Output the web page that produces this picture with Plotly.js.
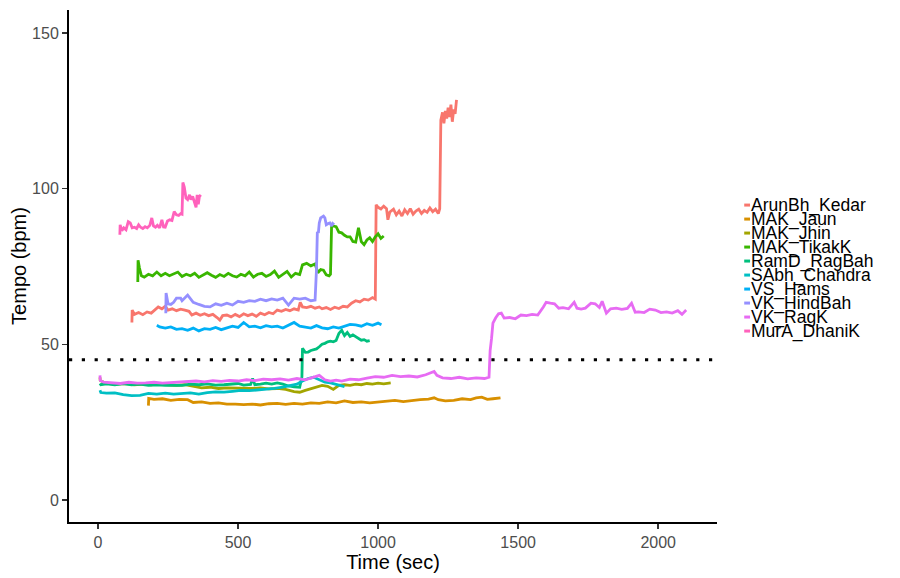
<!DOCTYPE html>
<html><head><meta charset="utf-8">
<script src="https://cdn.plot.ly/plotly-3.0.1.min.js"></script>
<style>html,body{margin:0;padding:0;background:#fff}#chart{width:900px;height:578px}</style>
</head><body><div id="chart"></div>
<script>
// ---- categories & colours ----
const performers = ["ArunBh_Kedar","MAK_Jaun","MAK_Jhin","MAK_TikakK","RamD_RagBah","SAbh_Chandra","VS_Hams","VK_HindBah","VK_RagK","MurA_DhaniK"];
const colors = ["#F8766D","#D89000","#A3A500","#39B600","#00BF7D","#00BFC4","#00B0F6","#9590FF","#E76BF3","#FF62BC"];
const xTicks = [0,500,1000,1500,2000];
const yTicks = [0,50,100,150];
const thresholdTempo = 45;

// ---- series values: [time (sec), tempo (bpm)] ----
const ArunBh_Kedar = [[121,57],[122,61],[130,59.6],[145,60.2],[160,59.5],[175,60.4],[190,60],[205,61.2],[215,62],[228,61.4],[240,62.2],[250,61],[265,61.4],[280,60.8],[295,61.3],[310,61],[325,60.6],[335,59.4],[350,60],[365,59.3],[380,59.8],[395,59.2],[410,59.6],[425,58.6],[435,57.8],[445,59.2],[460,59.4],[475,58.8],[490,59.6],[505,58.9],[520,59.8],[535,59.2],[550,59.7],[565,59],[580,60],[595,59.5],[610,60.2],[625,59.8],[640,61],[655,60.6],[670,61.2],[685,60.8],[700,61.4],[715,61],[722,63.5],[730,62],[745,61.8],[760,62.2],[775,61.6],[790,62],[800,61.4],[815,61.8],[830,61.2],[845,61.9],[860,61.5],[875,62.2],[890,62],[905,63.2],[920,64],[935,63.6],[950,64.5],[965,64.2],[980,65],[990,64.5],[993,94.8],[1000,94],[1010,93.5],[1020,94.4],[1030,93.6],[1035,90],[1042,92.5],[1055,93.4],[1065,91.6],[1075,92.8],[1085,91.2],[1095,93.2],[1105,92],[1115,93.6],[1125,91.8],[1135,92.8],[1145,93.4],[1155,92],[1165,93],[1175,92.4],[1185,93.8],[1195,92.6],[1205,93.4],[1215,92],[1220,93.5],[1224,122],[1230,124.5],[1235,121],[1240,125],[1245,122.5],[1250,126],[1255,123],[1260,127],[1265,121.5],[1270,125.5],[1275,124],[1280,128.5]];
const MAK_Jaun = [[180,30.3],[181,32.6],[200,32.3],[230,32.5],[260,32],[290,32.3],[320,32.2],[340,31.3],[370,31.5],[400,31],[430,31.2],[460,30.8],[490,30.8],[520,30.6],[550,30.8],[580,30.5],[610,30.9],[640,31],[670,30.7],[700,31],[730,30.8],[760,31.2],[790,31],[820,31.5],[850,31.2],[880,31.8],[910,31.3],[940,31.5],[970,31.2],[1000,31.5],[1030,31.8],[1060,32],[1090,31.6],[1120,32],[1150,32.2],[1180,32.4],[1200,32.8],[1215,32.2],[1240,31.8],[1270,32],[1300,32.5],[1330,32.2],[1350,32.8],[1370,33],[1390,32.3],[1410,32.5],[1437,32.8]];
const MAK_Jhin = [[7,39.4],[8,38.4],[20,37.8],[40,37.4],[70,37.2],[100,37.4],[130,37],[160,37.2],[190,37],[220,37.3],[250,37],[280,36.8],[310,37],[340,36.5],[370,36],[400,36.2],[430,35.8],[460,36],[490,35.9],[520,36],[550,35.8],[580,36],[610,35.7],[640,35.8],[670,35.5],[700,34.8],[720,34.6],[740,35.2],[760,35.8],[780,36.4],[800,36.8],[820,36.5],[840,35.5],[860,36.8],[880,37],[900,36.8],[920,37.2],[940,37],[960,37.4],[980,37.2],[1000,37.5],[1020,37.3],[1045,37.6]];
const MAK_TikakK = [[142,70],[143,77],[148,74.5],[155,72],[165,71.6],[180,72.5],[195,72],[210,73.2],[225,72],[240,72.8],[255,72],[270,72.5],[285,73.2],[300,71.8],[315,72.5],[330,72],[345,72.8],[360,71.5],[375,72.3],[390,73],[405,72.2],[420,71.5],[435,72.4],[450,71.8],[465,72.8],[480,72],[495,71.6],[510,72.5],[525,72],[540,73.2],[555,71.6],[570,72.5],[585,72.8],[600,71.8],[615,72.4],[630,73.5],[645,71.5],[660,72.6],[675,73.4],[690,71.6],[705,72.8],[720,72.4],[730,75.5],[745,76],[760,75.2],[775,75.8],[785,73],[795,74],[805,73.8],[815,72.3],[825,72],[830,72.5],[834,88.4],[840,88],[850,87.8],[860,86],[870,85.8],[880,85],[890,84.5],[900,84.5],[910,83],[920,82.8],[930,87.4],[940,83],[950,82],[960,83.5],[970,84.2],[980,83],[990,84.5],[1000,85.5],[1010,84],[1020,84.8]];
const RamD_RagBah = [[7,37.4],[10,37],[30,37.3],[60,37],[90,37.4],[120,37],[150,37.2],[180,36.8],[210,37],[240,36.8],[270,36.9],[300,36.8],[330,37.2],[360,37],[390,37.3],[420,36.9],[450,37],[480,37.2],[500,37.4],[520,36.9],[545,37.1],[552,39],[560,37],[580,37.2],[600,37.5],[620,37.2],[640,37.6],[660,37.2],[680,36.6],[700,36.3],[720,36.2],[728,39.5],[730,48.7],[740,47.4],[750,47.5],[760,48],[770,48.2],[780,48.5],[790,49.2],[800,50],[810,50.3],[820,50.8],[830,51],[840,50.8],[850,51.2],[860,53.5],[870,54.5],[880,52.8],[890,53.8],[900,52.5],[910,53],[920,52.4],[930,52],[940,51.3],[950,51.5],[960,51],[970,51.2]];
const SAbh_Chandra = [[7,35.2],[10,34.5],[30,34.3],[60,34.4],[90,33.8],[120,33.5],[150,33.6],[180,34.2],[210,34],[240,34.3],[270,34],[300,34.2],[330,34.4],[360,34],[390,34.5],[420,34.7],[450,34.6],[480,34.9],[510,35.2],[540,35.1],[570,35.3],[600,35.6],[630,35.8],[660,36.2],[690,36.8],[710,37.2],[730,38.2],[750,39],[770,39.4],[790,38.6],[810,37.8],[830,37.6],[850,37.2],[870,36.6],[880,36.4]];
const VS_Hams = [[210,56.1],[220,55.6],[240,55.2],[260,55.6],[280,54.8],[300,55],[320,54.5],[340,55.2],[360,54.3],[380,55],[400,54.8],[420,55.4],[440,54.7],[460,55.2],[480,55.8],[500,55.4],[520,57],[540,55.6],[560,55.8],[580,55.3],[600,56],[620,55.6],[640,55.8],[660,55.2],[680,56.2],[700,57],[720,55.8],[740,55.4],[760,55.2],[780,56],[800,55.3],[820,55],[840,55.6],[860,55.2],[880,55.8],[900,56.4],[920,56.2],[940,55.8],[960,56.6],[980,56.1],[1000,56.8],[1012,56.3]];
const VK_HindBah = [[242,60],[243,66.5],[250,63],[260,62.8],[270,63.5],[280,64.8],[295,64.8],[300,64],[320,65.8],[340,63.5],[360,62.8],[380,62.2],[400,62],[420,63],[440,62.5],[460,63.2],[480,62.6],[500,63.8],[520,63.5],[540,64],[560,63.8],[580,64.5],[600,64],[620,64.6],[640,64.2],[660,64.8],[680,62.6],[700,64.8],[720,64.5],[740,64.8],[760,64],[775,64.2],[780,74],[783,85.8],[787,86],[790,89],[795,90.6],[800,91],[805,91.2],[810,90.6],[815,88.4],[822,88.8],[828,89],[834,88],[838,88.8],[843,88.4]];
const VK_RagK = [[7,40],[8,38.4],[20,37.8],[50,37.6],[80,37.4],[110,37.8],[140,37.5],[170,37.6],[200,37.8],[230,37.5],[260,37.7],[290,37.9],[320,38],[350,38.2],[380,37.9],[410,38.3],[440,38.1],[470,38.4],[500,38.2],[530,38.6],[560,38.3],[590,38.8],[620,38.6],[650,38.9],[680,38.5],[710,39],[740,38.6],[770,39.4],[790,40],[810,38.6],[830,38.2],[850,38.5],[870,38.2],[900,38.8],[930,38.6],[960,39.1],[990,39.6],[1020,39.4],[1050,40],[1080,39.6],[1110,39.8],[1140,39.5],[1170,40.2],[1200,41.3],[1210,40],[1230,39.2],[1260,39],[1290,39.4],[1320,38.9],[1350,39.2],[1380,39],[1396,39.4],[1400,48],[1405,51.8],[1410,56.8],[1420,58.5],[1430,59.8],[1440,60],[1450,58.4],[1470,58.6],[1490,58.2],[1510,59.4],[1530,59.2],[1550,59.6],[1570,59.4],[1590,62],[1600,63.5],[1615,63.2],[1630,63],[1645,61.6],[1660,61.8],[1680,61.4],[1700,63.5],[1710,61.6],[1725,61.3],[1740,61.6],[1760,63.2],[1775,63],[1790,61.8],[1800,63.8],[1815,60],[1830,61.4],[1850,61.6],[1870,61.2],[1890,61.5],[1905,63.2],[1918,60.3],[1930,60.4],[1950,60.2],[1970,61.3],[1990,61],[2010,60.2],[2030,60.4],[2050,60],[2070,60.8],[2085,59.6],[2100,61]];
const MurA_DhaniK = [[78,85.2],[79,88.4],[85,86.5],[92,87.4],[100,86.8],[108,89.4],[115,89],[122,87.4],[130,87.6],[138,87.2],[145,88.4],[152,87.6],[160,87.2],[168,87.8],[176,87.4],[185,88.2],[192,90.6],[198,88],[205,87.6],[212,88.2],[220,87.4],[228,90],[234,87.7],[240,87.6],[248,89.6],[256,90],[264,89.8],[272,92.6],[280,91.6],[288,91.4],[295,92],[300,91.8],[303,102],[308,100.5],[314,97],[320,96.5],[327,98],[332,96.5],[338,97.5],[344,95.5],[350,94],[354,98],[358,95],[362,97.5],[367,98]];

const seriesData = [ArunBh_Kedar, MAK_Jaun, MAK_Jhin, MAK_TikakK, RamD_RagBah, SAbh_Chandra, VS_Hams, VK_HindBah, VK_RagK, MurA_DhaniK];

// ---- build ----
const FONT = "Liberation Sans, Arial, Helvetica, sans-serif";
const traces = performers.map((name, i) => ({
  type: 'scatter', mode: 'lines', name: name,
  x: seriesData[i].map(p => p[0]),
  y: seriesData[i].map(p => p[1]),
  line: {color: colors[i], width: 2.8},
  showlegend: false, hoverinfo: 'skip'
}));

// manual legend (compact ggplot-like spacing)
const legTop = 0.619, legStep = 0.02734;
const shapes = [{
  type: 'line', xref: 'paper', yref: 'y', x0: 0, x1: 1, y0: thresholdTempo, y1: thresholdTempo,
  line: {color: '#000', width: 3, dash: '3.2px,9.6px'}
}];
const annotations = [];
performers.forEach((name, i) => {
  const yy = legTop - i * legStep;
  shapes.push({type: 'line', xref: 'paper', yref: 'paper', x0: 1.0420, x1: 1.0510, y0: yy, y1: yy,
    line: {color: colors[i], width: 3}});
  annotations.push({xref: 'paper', yref: 'paper', x: 1.0490, y: yy, xanchor: 'left', yanchor: 'middle',
    text: name, showarrow: false, font: {family: FONT, size: 17.5, color: '#000'}});
});

const layout = {
  width: 900, height: 578,
  margin: {l: 69, r: 183, t: 10, b: 56},
  paper_bgcolor: '#fff', plot_bgcolor: '#fff',
  font: {family: FONT},
  showlegend: false,
  xaxis: {
    range: [-103.6, 2210], tickvals: xTicks, ticktext: xTicks.map(String),
    showgrid: false, zeroline: false, showline: true, linecolor: '#000', linewidth: 2,
    ticks: 'outside', ticklen: 5, tickwidth: 1.4, tickcolor: '#333',
    tickfont: {family: FONT, size: 16, color: '#4D4D4D'},
    title: {text: 'Time (sec)', font: {family: FONT, size: 20, color: '#000'}, standoff: 2}
  },
  yaxis: {
    range: [-7.1, 157.4], tickvals: yTicks, ticktext: yTicks.map(String),
    showgrid: false, zeroline: false, showline: true, linecolor: '#000', linewidth: 2,
    ticks: 'outside', ticklen: 5, tickwidth: 1.4, tickcolor: '#333',
    tickfont: {family: FONT, size: 16, color: '#4D4D4D'},
    title: {text: 'Tempo (bpm)', font: {family: FONT, size: 20, color: '#000'}, standoff: 0}
  },
  shapes: shapes,
  annotations: annotations
};

Plotly.newPlot('chart', traces, layout, {staticPlot: true, displayModeBar: false});
</script>
</body></html>
